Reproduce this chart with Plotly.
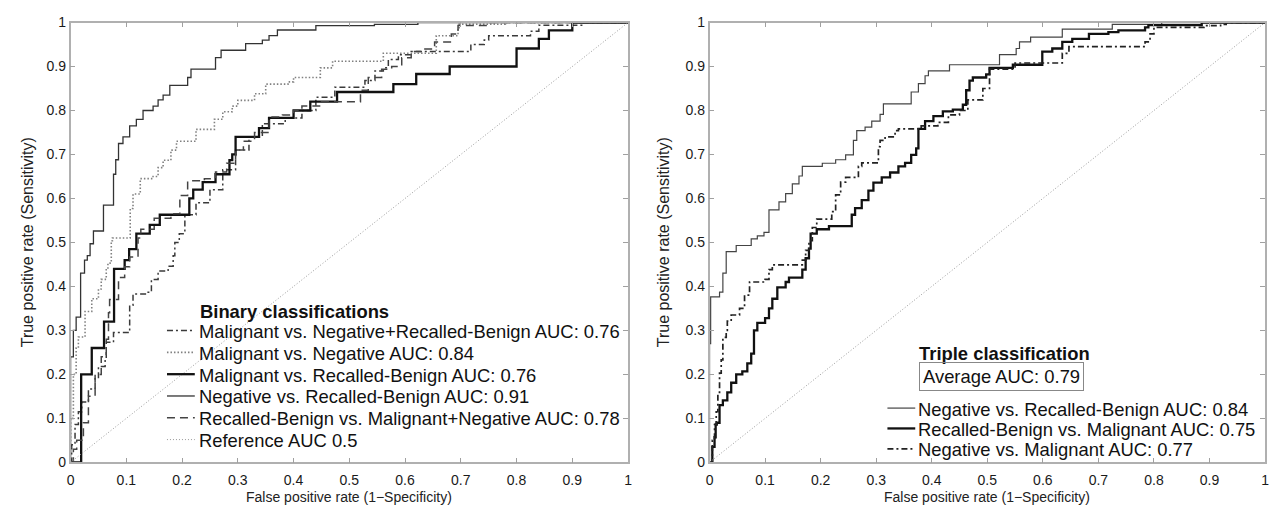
import plotly.graph_objects as go

# ---------------- data ----------------
TICKS = [0, 0.1, 0.2, 0.3, 0.4, 0.5, 0.6, 0.7, 0.8, 0.9, 1]
TICK_LABELS = ["0", "0.1", "0.2", "0.3", "0.4", "0.5", "0.6", "0.7", "0.8", "0.9", "1"]

# Left panel: binary classifications
mn_rb_fpr = [0, 0.002, 0.008, 0.014, 0.02, 0.032, 0.044, 0.05, 0.062, 0.064, 0.077, 0.106, 0.112, 0.136, 0.145,
             0.157, 0.175, 0.184, 0.187, 0.195, 0.205, 0.225, 0.25, 0.273, 0.296, 0.32, 0.344, 0.385, 0.415, 0.44,
             0.474, 0.528, 0.546, 0.561, 0.57, 0.588, 0.611, 0.718, 0.742, 0.75, 0.825, 0.84, 0.92, 1.0]
mn_rb_tpr = [0, 0.04, 0.086, 0.115, 0.137, 0.167, 0.19, 0.218, 0.233, 0.273, 0.295, 0.357, 0.383, 0.387, 0.416,
             0.435, 0.446, 0.47, 0.50, 0.52, 0.563, 0.59, 0.62, 0.665, 0.71, 0.74, 0.77, 0.783, 0.80, 0.83,
             0.853, 0.868, 0.89, 0.897, 0.916, 0.927, 0.934, 0.95, 0.96, 0.97, 0.98, 0.994, 1.0, 1.0]

m_n_fpr = [0, 0, 0.005, 0.01, 0.014, 0.026, 0.038, 0.05, 0.055, 0.064, 0.067, 0.073, 0.075, 0.107, 0.112, 0.125,
           0.148, 0.157, 0.166, 0.18, 0.19, 0.225, 0.258, 0.273, 0.29, 0.30, 0.33, 0.35, 0.39, 0.40, 0.448, 0.47,
           0.561, 0.656, 0.695, 0.697, 0.78, 1.0]
m_n_tpr = [0, 0.1, 0.2, 0.26, 0.285, 0.343, 0.372, 0.394, 0.416, 0.438, 0.453, 0.504, 0.51, 0.577, 0.61, 0.645,
           0.65, 0.67, 0.687, 0.71, 0.73, 0.757, 0.78, 0.797, 0.81, 0.823, 0.838, 0.86, 0.865, 0.875, 0.897, 0.912,
           0.93, 0.97, 0.985, 0.996, 1.0, 1.0]

m_rb_fpr = [0, 0.019, 0.038, 0.06, 0.078, 0.097, 0.105, 0.118, 0.142, 0.16, 0.213, 0.22, 0.237, 0.26, 0.285, 0.29,
            0.296, 0.338, 0.356, 0.40, 0.43, 0.478, 0.579, 0.62, 0.68, 0.80, 0.84, 0.858, 0.90, 1.0]
m_rb_tpr = [0, 0.20, 0.26, 0.32, 0.44, 0.46, 0.485, 0.52, 0.54, 0.563, 0.60, 0.62, 0.637, 0.655, 0.687, 0.70,
            0.74, 0.76, 0.783, 0.80, 0.82, 0.842, 0.86, 0.883, 0.90, 0.941, 0.963, 0.982, 1.0, 1.0]

n_rb_fpr = [0, 0, 0.005, 0.01, 0.018, 0.025, 0.03, 0.035, 0.041, 0.059, 0.077, 0.081, 0.086, 0.094, 0.106, 0.118,
            0.13, 0.148, 0.157, 0.166, 0.178, 0.21, 0.216, 0.26, 0.27, 0.314, 0.344, 0.356, 0.371, 0.44, 0.545,
            0.623, 1.0]
n_rb_tpr = [0, 0.24, 0.30, 0.33, 0.43, 0.46, 0.47, 0.497, 0.526, 0.585, 0.655, 0.688, 0.725, 0.74, 0.765, 0.78,
            0.80, 0.81, 0.824, 0.835, 0.857, 0.875, 0.894, 0.92, 0.937, 0.952, 0.96, 0.97, 0.983, 0.993, 0.996,
            1.0, 1.0]

rb_mn_fpr = [0, 0.005, 0.011, 0.023, 0.032, 0.044, 0.055, 0.064, 0.068, 0.07, 0.086, 0.097, 0.106, 0.121, 0.126,
             0.15, 0.18, 0.196, 0.21, 0.24, 0.26, 0.28, 0.296, 0.31, 0.33, 0.356, 0.38, 0.40, 0.415, 0.45, 0.52,
             0.534, 0.558, 0.576, 0.594, 0.611, 0.629, 0.653, 0.683, 0.695, 0.75, 1.0]
rb_mn_tpr = [0, 0.03, 0.05, 0.09, 0.15, 0.20, 0.24, 0.28, 0.34, 0.37, 0.42, 0.445, 0.467, 0.51, 0.53,
             0.555, 0.565, 0.607, 0.64, 0.645, 0.66, 0.68, 0.71, 0.73, 0.75, 0.785, 0.79, 0.80, 0.81, 0.82, 0.846,
             0.875, 0.894, 0.90, 0.92, 0.934, 0.94, 0.956, 0.974, 0.993, 1.0, 1.0]

ref_fpr = [0, 1]
ref_tpr = [0, 1]

# Right panel: triple classification
t_n_rb_fpr = [0, 0, 0.002, 0.018, 0.024, 0.03, 0.048, 0.075, 0.086, 0.098, 0.107, 0.125, 0.137, 0.149, 0.161,
              0.167, 0.203, 0.227, 0.245, 0.259, 0.265, 0.28, 0.292, 0.307, 0.313, 0.363, 0.376, 0.388, 0.394,
              0.432, 0.522, 0.552, 0.558, 0.578, 0.635, 0.725, 0.814, 1.0]
t_n_rb_tpr = [0, 0.27, 0.376, 0.387, 0.43, 0.479, 0.493, 0.508, 0.515, 0.523, 0.574, 0.592, 0.611, 0.633, 0.651,
              0.673, 0.68, 0.688, 0.699, 0.732, 0.754, 0.762, 0.776, 0.791, 0.815, 0.842, 0.861, 0.879, 0.89,
              0.904, 0.927, 0.941, 0.956, 0.967, 0.985, 0.996, 1.0, 1.0]

t_rb_m_fpr = [0, 0.005, 0.009, 0.011, 0.013, 0.018, 0.024, 0.032, 0.039, 0.048, 0.059, 0.068, 0.075, 0.08, 0.086,
              0.10, 0.107, 0.113, 0.122, 0.137, 0.143, 0.167, 0.173, 0.179, 0.182, 0.193, 0.215, 0.256, 0.262,
              0.274, 0.286, 0.295, 0.31, 0.325, 0.34, 0.352, 0.363, 0.372, 0.376, 0.388, 0.403, 0.42, 0.438,
              0.456, 0.462, 0.468, 0.474, 0.498, 0.504, 0.546, 0.599, 0.617, 0.635, 0.653, 0.683, 0.718, 0.736,
              0.784, 0.79, 0.886, 1.0]
t_rb_m_tpr = [0, 0.035, 0.057, 0.086, 0.09, 0.13, 0.141, 0.159, 0.181, 0.20, 0.207, 0.225, 0.247, 0.30, 0.317,
              0.328, 0.35, 0.372, 0.398, 0.41, 0.42, 0.438, 0.464, 0.486, 0.52, 0.53, 0.537, 0.563, 0.578,
              0.596, 0.618, 0.636, 0.648, 0.659, 0.673, 0.681, 0.699, 0.714, 0.758, 0.776, 0.787, 0.798, 0.802,
              0.813, 0.846, 0.868, 0.875, 0.882, 0.897, 0.904, 0.934, 0.941, 0.956, 0.963, 0.974, 0.978, 0.982,
              0.989, 0.994, 1.0, 1.0]

t_n_m_fpr = [0, 0.005, 0.009, 0.012, 0.015, 0.018, 0.021, 0.024, 0.03, 0.032, 0.039, 0.054, 0.063, 0.072, 0.10,
             0.107, 0.113, 0.167, 0.173, 0.179, 0.185, 0.193, 0.22, 0.227, 0.236, 0.245, 0.268, 0.274, 0.304,
             0.307, 0.316, 0.334, 0.34, 0.381, 0.411, 0.43, 0.45, 0.465, 0.492, 0.504, 0.55, 0.635, 0.647, 0.784,
             0.793, 0.80, 0.89, 0.92, 0.93, 1.0]
t_n_m_tpr = [0, 0.05, 0.086, 0.115, 0.159, 0.203, 0.233, 0.284, 0.30, 0.321, 0.335, 0.35, 0.38, 0.41, 0.416,
             0.438, 0.449, 0.46, 0.482, 0.504, 0.534, 0.553, 0.57, 0.608, 0.637, 0.648, 0.673, 0.681, 0.718,
             0.732, 0.74, 0.754, 0.758, 0.765, 0.773, 0.79, 0.80, 0.824, 0.85, 0.894, 0.908, 0.93, 0.945, 0.956,
             0.974, 0.989, 0.993, 0.996, 1.0, 1.0]

LEFT_TITLE = "Binary classifications"
LEFT_LABELS = ["Malignant vs. Negative+Recalled-Benign AUC: 0.76",
               "Malignant vs. Negative AUC: 0.84",
               "Malignant vs. Recalled-Benign AUC: 0.76",
               "Negative vs. Recalled-Benign AUC: 0.91",
               "Recalled-Benign vs. Malignant+Negative AUC: 0.78",
               "Reference AUC 0.5"]
RIGHT_TITLE = "Triple classification"
RIGHT_BOX = "Average AUC: 0.79"
RIGHT_LABELS = ["Negative vs. Recalled-Benign AUC: 0.84",
                "Recalled-Benign vs. Malignant AUC: 0.75",
                "Negative vs. Malignant AUC: 0.77"]
X_TITLE = "False positive rate (1\u2212Specificity)"
Y_TITLE = "True positive rate (Sensitivity)"

# ---------------- styles ----------------
FONT = "Liberation Sans, Arial, Helvetica, sans-serif"
LEG_SIZE = 18.4
DASHDOT = "6px,3px,2px,3px"
DOT = "1.5px,2px"
DASH = "8px,5px"
REFDOT = "1px,2px"

left_series = [
    (mn_rb_fpr, mn_rb_tpr, dict(color="#3a3a3a", width=1.5, dash=DASHDOT)),
    (m_n_fpr, m_n_tpr, dict(color="#808080", width=1.6, dash=DOT)),
    (m_rb_fpr, m_rb_tpr, dict(color="#111111", width=2.3, dash="solid")),
    (n_rb_fpr, n_rb_tpr, dict(color="#333333", width=1.3, dash="solid")),
    (rb_mn_fpr, rb_mn_tpr, dict(color="#444444", width=1.5, dash=DASH)),
    (ref_fpr, ref_tpr, dict(color="#9a9a9a", width=1.0, dash=REFDOT)),
]
right_series = [
    (t_n_rb_fpr, t_n_rb_tpr, dict(color="#444444", width=1.2, dash="solid")),
    (t_rb_m_fpr, t_rb_m_tpr, dict(color="#111111", width=2.3, dash="solid")),
    (t_n_m_fpr, t_n_m_tpr, dict(color="#222222", width=1.7, dash=DASHDOT)),
    (ref_fpr, ref_tpr, dict(color="#9a9a9a", width=1.0, dash=REFDOT)),
]

W, H = 1275, 512
def px(x):
    return x / W
def py(y):
    return 1 - y / H

fig = go.Figure()
for i, (fx, ty, ln) in enumerate(left_series):
    name = LEFT_LABELS[i]
    fig.add_trace(go.Scatter(x=fx, y=ty, mode="lines", name=name, line=ln,
                             line_shape="linear" if fx is ref_fpr else "hv",
                             xaxis="x", yaxis="y", showlegend=False))
for i, (fx, ty, ln) in enumerate(right_series):
    name = RIGHT_LABELS[i] if i < len(RIGHT_LABELS) else "Reference"
    fig.add_trace(go.Scatter(x=fx, y=ty, mode="lines", name=name, line=ln,
                             line_shape="linear" if fx is ref_fpr else "hv",
                             xaxis="x2", yaxis="y2", showlegend=False))

axis_common = dict(range=[0, 1], tickvals=TICKS, ticktext=TICK_LABELS, ticks="inside", ticklen=5,
                   tickcolor="#a0a0a0", tickwidth=1, showline=True, linecolor="#b0b0b0", linewidth=1.5,
                   mirror="ticks", showgrid=False, zeroline=False,
                   tickfont=dict(family=FONT, size=14, color="#1a1a1a"), fixedrange=True)

ydom = [py(469), py(15)]
fig.update_layout(
    width=W, height=H, margin=dict(l=0, r=0, t=0, b=0),
    paper_bgcolor="white", plot_bgcolor="white",
    xaxis=dict(domain=[px(67), px(628)], anchor="y", ticklabelstandoff=4, **axis_common),
    yaxis=dict(domain=ydom, anchor="x", **axis_common),
    xaxis2=dict(domain=[px(710), px(1269)], anchor="y2", ticklabelstandoff=4, **axis_common),
    yaxis2=dict(domain=ydom, anchor="x2", **axis_common),
    showlegend=False,
)

ann = []
shapes = []
# axis titles
for cx, yx in [((67 + 628) / 2, 24), ((710 + 1269) / 2, 664)]:
    ann.append(dict(text=X_TITLE, x=px(cx), y=py(505), xref="paper", yref="paper", showarrow=False,
                    xanchor="center", yanchor="middle", font=dict(family=FONT, size=14, color="#222")))
    ann.append(dict(text=Y_TITLE, x=px(yx), y=py(242), xref="paper", yref="paper", showarrow=False,
                    textangle=-90, xanchor="center", yanchor="middle",
                    font=dict(family=FONT, size=16, color="#222")))

# left legend
LDY = 3.5
ann.append(dict(text="<b>" + LEFT_TITLE + "</b>", x=px(195), y=py(310 + LDY), xref="paper", yref="paper",
                showarrow=False, xanchor="left", yanchor="middle",
                font=dict(family=FONT, size=LEG_SIZE, color="#111")))
left_rows = [330.5, 353, 375.5, 398, 420.5, 443]
for i, lab in enumerate(LEFT_LABELS):
    yy = left_rows[i] + LDY
    ann.append(dict(text=lab, x=px(194), y=py(yy), xref="paper", yref="paper", showarrow=False,
                    xanchor="left", yanchor="middle", font=dict(family=FONT, size=LEG_SIZE, color="#111")))
    ln = left_series[i][2]
    shapes.append(dict(type="line", xref="paper", yref="paper", x0=px(164), x1=px(192),
                       y0=py(yy - 1), y1=py(yy - 1),
                       line=dict(color=ln["color"], width=ln["width"], dash=ln["dash"])))

# right legend
RDY = 4
ann.append(dict(text="<b>" + RIGHT_TITLE + "</b>", x=px(919), y=py(353 + RDY), xref="paper", yref="paper",
                showarrow=False, xanchor="left", yanchor="middle",
                font=dict(family=FONT, size=LEG_SIZE, color="#111")))
ann.append(dict(text=RIGHT_BOX, x=px(921), y=py(376.5 + RDY), xref="paper", yref="paper", showarrow=False,
                xanchor="left", yanchor="middle", bordercolor="#888", borderwidth=1, borderpad=3,
                font=dict(family=FONT, size=LEG_SIZE, color="#111")))
right_rows = [410, 431, 452]
for i, lab in enumerate(RIGHT_LABELS):
    yy = right_rows[i] + RDY
    ann.append(dict(text=lab, x=px(918), y=py(yy), xref="paper", yref="paper", showarrow=False,
                    xanchor="left", yanchor="middle", font=dict(family=FONT, size=LEG_SIZE, color="#111")))
    ln = right_series[i][2]
    shapes.append(dict(type="line", xref="paper", yref="paper", x0=px(889), x1=px(917),
                       y0=py(yy - 1), y1=py(yy - 1),
                       line=dict(color=ln["color"], width=ln["width"], dash=ln["dash"])))

fig.update_layout(annotations=ann, shapes=shapes)

fig.write_html("out.html", config={"displayModeBar": False},
               post_script="document.body.style.margin='0px';")
